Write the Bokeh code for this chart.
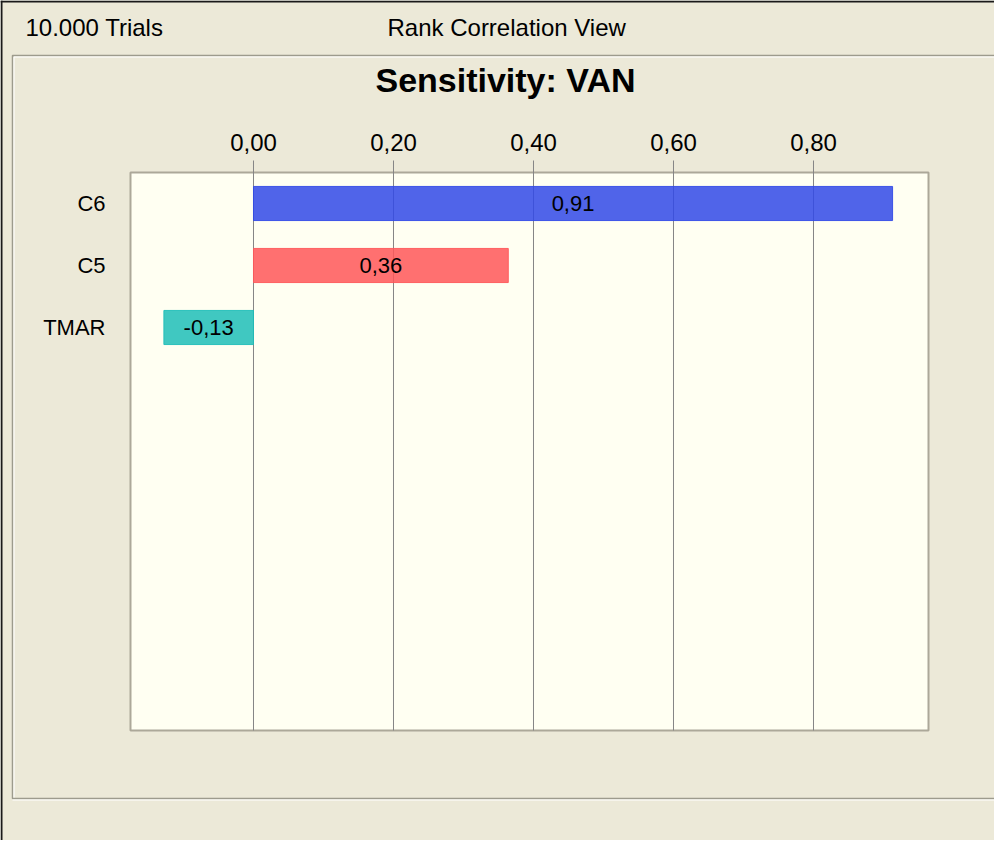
from bokeh.plotting import figure
from bokeh.models import Range1d, ColumnDataSource
from bokeh.core.properties import value
from bokeh.embed import file_html
from bokeh.resources import INLINE

# ---- data ----
categories = ["C6", "C5", "TMAR"]
correlations = [0.913, 0.364, -0.128]
bar_colors = ["#3149E7", "#FF5759", "#1EBEB8"]
x_ticks = [0.0, 0.2, 0.4, 0.6, 0.8]
header_left = "10.000 Trials"
header_center = "Rank Correlation View"
chart_title = "Sensitivity: VAN"
n_slots = 9

positions = [i + 0.5 for i in range(len(categories))]
bar_labels = [f"{v:.2f}".replace(".", ",") for v in correlations]
tick_labels = [f"{t:.2f}".replace(".", ",") for t in x_ticks]

FONT = "Liberation Sans"
BG = "#ECE9D8"
PLOT_BG = "#FFFFF2"
GRID = "#858585"
W, H = 994, 840
ML, MT = 130, 172          # plot-area offset inside the canvas (px)
X0, X1 = -0.1757, 0.9643   # visible value range of the plot area
PX_X = 700.0               # px per unit of correlation
PX_Y = 62.0                # px per category slot


def cx(px):  # canvas pixel -> data x (layout decorations only)
    return X0 + (px - ML) / PX_X


def cy(py):  # canvas pixel (from top) -> data y (layout decorations only)
    return (py - MT) / PX_Y


p = figure(width=W, height=H, output_backend="svg", toolbar_location=None,
           x_range=Range1d(cx(0), cx(W)), y_range=Range1d(cy(H), cy(0)),
           x_axis_type=None, y_axis_type=None,
           min_border=0, min_border_left=0, min_border_right=0,
           min_border_top=0, min_border_bottom=0,
           background_fill_color=BG, border_fill_color=BG,
           outline_line_color=None)
p.grid.visible = False

# plot area
p.quad(left=[X0], right=[X1], top=[0], bottom=[n_slots],
       fill_color=PLOT_BG, line_color="#ACA899", line_width=2)

# grid lines with tick marks above the plot area
p.segment(x0=x_ticks, x1=x_ticks, y0=[cy(160)] * len(x_ticks),
          y1=[n_slots] * len(x_ticks), line_color=GRID, line_width=1)

# tick labels
p.text(x=x_ticks, y=[cy(142)] * len(x_ticks), text=tick_labels,
       text_align="center", text_baseline="middle",
       text_font=value(FONT), text_font_size="24px", text_color="black")

# category labels
p.text(x=[cx(ML - 25)] * len(categories), y=positions, text=categories,
       text_align="right", text_baseline="middle",
       text_font=value(FONT), text_font_size="22px", text_color="black")

# bars and values
src = ColumnDataSource(dict(y=positions, v=correlations,
                            mid=[v / 2 for v in correlations],
                            lab=bar_labels, color=bar_colors))
p.hbar(y="y", left=0, right="v", height=0.55, fill_color="color", fill_alpha=0.85,
       line_color="color", line_alpha=0.9, line_width=1, source=src)
p.text(x="mid", y="y", text="lab", text_align="center", text_baseline="middle",
       text_font=value(FONT), text_font_size="22px", text_color="black", source=src)

# header texts and title
p.text(x=[cx(25), cx(387)], y=[cy(27), cy(27)], text=[header_left, header_center],
       text_align="left", text_baseline="middle",
       text_font=value(FONT), text_font_size="24px", text_color="black")
p.text(x=[cx(505)], y=[cy(79)], text=[chart_title],
       text_align="center", text_baseline="middle",
       text_font=value(FONT), text_font_size="34px", text_font_style="bold",
       text_color="black")

# group box (etched frame)
gx0, gy0, gy1, gx1 = 12, 55, 798, W + 10
p.multi_line(xs=[[cx(gx1), cx(gx0), cx(gx0), cx(gx1)]],
             ys=[[cy(gy0), cy(gy0), cy(gy1), cy(gy1)]],
             line_color="#9D9B8D", line_width=1.5)
p.multi_line(xs=[[cx(gx1), cx(gx0 + 1.5), cx(gx0 + 1.5)], [cx(gx0), cx(gx1)]],
             ys=[[cy(gy0 + 1.5), cy(gy0 + 1.5), cy(gy1 - 1)], [cy(gy1 + 1.5), cy(gy1 + 1.5)]],
             line_color="white", line_width=1)

# window edge
p.quad(left=[cx(0), cx(0)], right=[cx(2), cx(W)], top=[cy(0), cy(0)],
       bottom=[cy(H), cy(2)], fill_color="#1A1A1A", line_color=None)

html = file_html(p, INLINE)
html = html.replace("<body>", '<body style="background-color:#FF33CC;">', 1)
open("out.html", "w").write(html)
